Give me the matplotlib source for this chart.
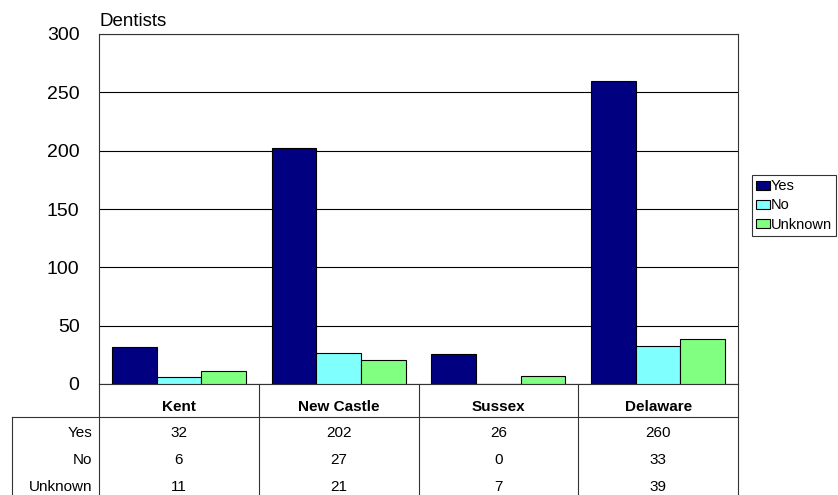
import numpy as np
import matplotlib.pyplot as plt

counties = ["Kent", "New Castle", "Sussex", "Delaware"]
series = ["Yes", "No", "Unknown"]
yes = [32, 202, 26, 260]
no = [6, 27, 0, 33]
unknown = [11, 21, 7, 39]
colors = ["#000080", "#80ffff", "#80ff80"]

plt.rcParams["font.family"] = ["Liberation Sans", "DejaVu Sans"]

W, H = 838, 495
fig = plt.figure(figsize=(W / 100, H / 100), dpi=100)

# plot area in pixels
left, right, top, bottom = 99, 738, 34, 384
ax = fig.add_axes([left / W, 1 - bottom / H, (right - left) / W, (bottom - top) / H])

x = np.arange(len(counties))
bw = 0.28
for k, (vals, c, name) in enumerate(zip([yes, no, unknown], colors, series)):
    ax.bar(x + (k - 1) * bw, vals, bw, color=c, edgecolor="black",
           linewidth=0.8, label=name, zorder=3)

ax.set_xlim(-0.5, len(counties) - 0.5)
ax.set_ylim(0, 300)
ax.set_yticks(range(0, 301, 50))
ax.set_xticks([])
ax.tick_params(axis="y", length=0, pad=14, labelsize=14)
ax.grid(axis="y", color="black", linewidth=0.8, zorder=0)
for s in ax.spines.values():
    s.set_linewidth(0.8)
    s.set_color("#333333")
ax.text(0, 1.012, "Dentists", transform=ax.transAxes, fontsize=13.5,
        ha="left", va="bottom")

leg = fig.legend(loc="upper left", bbox_to_anchor=(752 / W, 1 - 175 / H),
                 fontsize=10.5, frameon=True, fancybox=False, edgecolor="black",
                 handlelength=0.9, handleheight=0.6, handletextpad=0.1,
                 labelspacing=0.35, borderpad=0.3, borderaxespad=0)
leg.get_frame().set_linewidth(0.8)

# data table below the plot, drawn in pixel coordinates
tab = fig.add_axes([0, 0, 1, 1])
tab.set_xlim(0, W)
tab.set_ylim(H, 0)
tab.axis("off")
tab.patch.set_alpha(0)

colw = (right - left) / len(counties)
head_bot = 417
row_h = 27
lab_left = 12
lw = 0.8
lc = "#333333"
tab.plot([lab_left, right], [head_bot, head_bot], color=lc, lw=lw)
tab.plot([lab_left, lab_left], [head_bot, H + 5], color=lc, lw=lw)
for i in range(len(counties) + 1):
    xx = left + i * colw
    tab.plot([xx, xx], [bottom, H + 5], color=lc, lw=lw)

for i, name in enumerate(counties):
    tab.text(left + (i + 0.5) * colw, 411, name, ha="center", va="baseline",
             fontsize=11, fontweight="bold")

for r, (name, vals) in enumerate(zip(series, [yes, no, unknown])):
    yy = head_bot + (r + 0.6) * row_h
    tab.text(left - 7, yy, name, ha="right", va="center", fontsize=11)
    for i, v in enumerate(vals):
        tab.text(left + (i + 0.5) * colw, yy, str(v), ha="center",
                 va="center", fontsize=11)

fig.savefig("out.png", dpi=100)
